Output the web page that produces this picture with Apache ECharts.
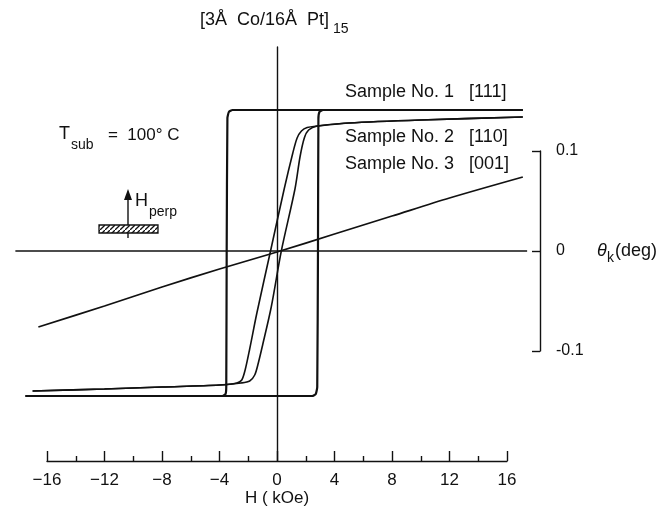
<!DOCTYPE html>
<html>
<head>
<meta charset="utf-8">
<script src="https://cdn.jsdelivr.net/npm/echarts@6/dist/echarts.min.js"></script>
<style>html,body{margin:0;padding:0;background:#fff}#c{width:669px;height:512px}</style>
</head>
<body>
<div id="c"></div>
<script>
// ---- axis settings ----
const xMin = -16, xMax = 16, xInterval = 4;          // printed H scale (kOe)
const plotHMin = -18.4, plotHMax = 17.6;             // extent the traces run over
const plotTMin = -0.21, plotTMax = 0.204;            // theta extent of the plot area
const scaleBarTicks = [-0.1, 0, 0.1];
const xTitle = 'H ( kOe)';

// ---- Sample No. 1 [111] (square loop) ----
const s1DescH  = [17.1, 10, 0, -3.1, -3.35, -3.45, -3.5, -3.53, -3.58, -3.8, -10, -17.5];
const s1DescT  = [0.141, 0.141, 0.141, 0.141, 0.139, 0.133, 0.0, -0.136, -0.143, -0.145, -0.145, -0.145];
const s1AscH   = [-17.5, -10, 0, 2.45, 2.7, 2.8, 2.85, 2.88, 2.95, 3.2, 10, 17.1];
const s1AscT   = [-0.145, -0.145, -0.145, -0.145, -0.143, -0.136, 0.0, 0.132, 0.139, 0.141, 0.141, 0.141];

// ---- Sample No. 2 [110] ----
const s2DescH = [17.1, 10, 5, 2.8, 2.1, 1.7, 1.4, 1.1, 0.5, -0.45, -1.4, -1.9, -2.2, -2.45, -2.8, -4, -8, -12, -17.0];
const s2DescT = [0.134, 0.131, 0.128, 0.125, 0.1235, 0.120, 0.113, 0.098, 0.062, 0.0, -0.062, -0.098, -0.118, -0.129, -0.132, -0.134, -0.136, -0.138, -0.140];
const s2AscH  = [-17.0, -12, -8, -4, -2.5, -1.9, -1.55, -1.3, -1.0, -0.4, 0.3, 1.25, 1.6, 1.9, 2.2, 2.8, 5, 10, 17.1];
const s2AscT  = [-0.140, -0.138, -0.136, -0.134, -0.132, -0.130, -0.124, -0.112, -0.094, -0.056, 0.0, 0.062, 0.094, 0.113, 0.121, 0.125, 0.128, 0.131, 0.134];

// ---- Sample No. 3 [001] ----
const s3H = [-16.6, -12, -8, -4, 0, 4, 8, 12, 17.1];
const s3T = [-0.076, -0.055, -0.036, -0.018, -0.001, 0.017, 0.035, 0.053, 0.074];

// ---- horizontal zero reference line ----
const zeroLineH = [-18.2, 17.4];
const zeroLineT = [0, 0];

// ---- labels ----
const sampleLabels = ['Sample No. 1   [111]', 'Sample No. 2   [110]', 'Sample No. 3   [001]'];

const zip = (a, b) => a.map((v, i) => [v, b[i]]);
const FONT = '"Liberation Sans", Arial, sans-serif';
const INK = '#111';

function hatchPattern() {
  const c = document.createElement('canvas');
  c.width = 5; c.height = 5;
  const g = c.getContext('2d');
  g.fillStyle = '#fff'; g.fillRect(0, 0, 5, 5);
  g.strokeStyle = '#111'; g.lineWidth = 1.3;
  g.beginPath(); g.moveTo(-1, 6); g.lineTo(6, -1); g.stroke();
  return { image: c, repeat: 'repeat' };
}

function lineSeries(data, w, smooth) {
  return {
    type: 'line', xAxisIndex: 0, yAxisIndex: 0, data: data,
    showSymbol: false, symbol: 'none', clip: false, smooth: smooth || false,
    lineStyle: { color: INK, width: w }, silent: true
  };
}

// pixel scale shared by the plot grid and the printed H axis
const pxPerKOe = 14.375;
const axisLeft = 47, axisBottom = 51;
const plotLeft = axisLeft - (xMin - plotHMin) * pxPerKOe;
const plotWidth = (plotHMax - plotHMin) * pxPerKOe;

const chart = echarts.init(document.getElementById('c'), null, { renderer: 'canvas' });
const txt = (x, y, s, size, extra) => Object.assign({
  type: 'text', x: x, y: y,
  style: Object.assign({ text: s, font: (size || 16) + 'px ' + FONT, fill: INK, verticalAlign: 'middle', align: 'left' }, extra || {})
});

chart.setOption({
  animation: false,
  backgroundColor: '#fff',
  grid: [
    { left: plotLeft, width: plotWidth, top: 47, bottom: axisBottom },
    { left: axisLeft, width: (xMax - xMin) * pxPerKOe, bottom: axisBottom, height: 10 },
    { left: 540, width: 10, top: 151, height: 200 }
  ],
  xAxis: [
    { gridIndex: 0, type: 'value', min: plotHMin, max: plotHMax, show: false },
    {
      gridIndex: 1, type: 'value', min: xMin, max: xMax, interval: xInterval,
      axisLine: { onZero: false, lineStyle: { color: INK, width: 1.4 } },
      axisTick: { inside: true, length: 10, lineStyle: { color: INK, width: 1.4 } },
      minorTick: { show: true, splitNumber: 2, length: 5, lineStyle: { color: INK, width: 1.4 } },
      splitLine: { show: false },
      axisLabel: {
        margin: 11, color: INK, fontSize: 17, fontFamily: FONT,
        formatter: v => (v < 0 ? '\u2212' + Math.abs(v) : String(v))
      },
      name: xTitle, nameLocation: 'middle', nameGap: 26,
      nameTextStyle: { color: INK, fontSize: 17, fontFamily: FONT }
    },
    { gridIndex: 2, type: 'value', min: 0, max: 1, show: false }
  ],
  yAxis: [
    {
      gridIndex: 0, type: 'value', min: plotTMin, max: plotTMax,
      axisLine: { show: true, onZero: true, lineStyle: { color: INK, width: 1.4 } },
      axisTick: { show: false }, axisLabel: { show: false }, splitLine: { show: false }
    },
    { gridIndex: 1, type: 'value', min: 0, max: 1, show: false },
    {
      gridIndex: 2, type: 'value', position: 'right',
      min: scaleBarTicks[0], max: scaleBarTicks[scaleBarTicks.length - 1], interval: scaleBarTicks[1] - scaleBarTicks[0],
      axisLine: { show: true, lineStyle: { color: INK, width: 1.4 } },
      axisTick: { show: true, inside: true, length: 8, lineStyle: { color: INK, width: 1.4 } },
      splitLine: { show: false },
      axisLabel: {
        margin: 6, color: INK, fontSize: 16, fontFamily: FONT,
        formatter: v => (Math.abs(v) < 1e-9 ? '0' : v.toFixed(1))
      }
    }
  ],
  series: [
    lineSeries(zip(zeroLineH, zeroLineT), 1.4),
    lineSeries(zip(s3H, s3T), 1.8, 0.3),
    lineSeries(zip(s2DescH, s2DescT), 1.6, 0.3),
    lineSeries(zip(s2AscH, s2AscT), 1.6, 0.3),
    lineSeries(zip(s1DescH, s1DescT), 2.2, 0.15),
    lineSeries(zip(s1AscH, s1AscT), 2.2, 0.15)
  ],
  graphic: [
    txt(200, 20, '[3\u00C5  Co/16\u00C5  Pt]', 18),
    txt(333, 29, '15', 14),
    txt(345, 92, sampleLabels[0], 18),
    txt(345, 137, sampleLabels[1], 18),
    txt(345, 164, sampleLabels[2], 18),
    txt(59, 134, 'T', 18),
    txt(71, 145, 'sub', 14),
    txt(108, 135, '=  100\u00B0 C', 17),
    txt(135, 201, 'H', 18),
    txt(149, 212, 'perp', 14),
    txt(597, 251, '\u03B8', 18, { font: 'italic 18px ' + FONT }),
    txt(607, 258, 'k', 14),
    txt(615, 251, '(deg)', 18),
    { type: 'line', shape: { x1: 128, y1: 238, x2: 128, y2: 198 }, style: { stroke: INK, lineWidth: 1.4 } },
    { type: 'polygon', shape: { points: [[124, 200], [132, 200], [128, 189]] }, style: { fill: INK } },
    { type: 'rect', shape: { x: 99, y: 225, width: 59, height: 8 }, style: { fill: hatchPattern(), stroke: INK, lineWidth: 1.3 } }
  ]
});
</script>
</body>
</html>
